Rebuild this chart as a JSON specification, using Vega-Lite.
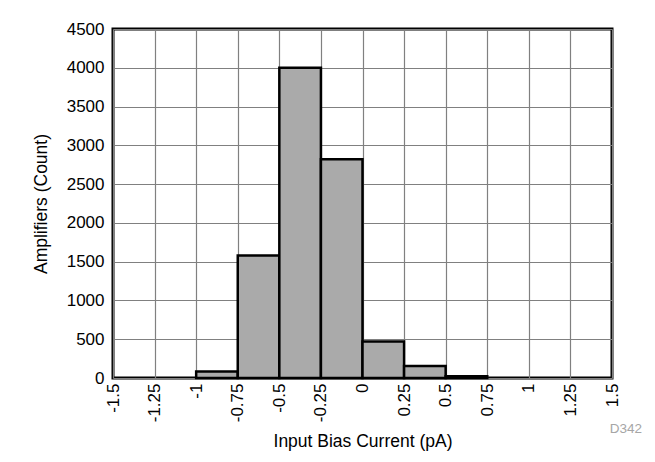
{
  "$schema": "https://vega.github.io/schema/vega-lite/v6.json",
  "width": 499,
  "height": 349,
  "autosize": "none",
  "padding": {"left": 113, "top": 29, "right": 43, "bottom": 84},
  "background": "white",
  "config": {
    "font": "Liberation Sans",
    "view": {"stroke": "black", "strokeWidth": 3},
    "axis": {"labelFont": "Liberation Sans", "titleFont": "Liberation Sans", "labelColor": "black", "titleColor": "black", "labelFontSize": 17, "titleFontSize": 17.5, "titleFontWeight": "normal", "gridColor": "#808080", "gridWidth": 1.2, "gridOpacity": 1, "domain": false, "ticks": false}
  },
  "title": {"text": "D342", "orient": "bottom", "anchor": "end", "frame": "bounds", "fontSize": 13.5, "fontWeight": "normal", "color": "#a6a6a6", "font": "Liberation Sans", "offset": -28, "dx": 22},
  "data": {"values": [
    {"lo": -1.0, "hi": -0.75, "count": 85},
    {"lo": -0.75, "hi": -0.5, "count": 1580},
    {"lo": -0.5, "hi": -0.25, "count": 4000},
    {"lo": -0.25, "hi": 0.0, "count": 2820},
    {"lo": 0.0, "hi": 0.25, "count": 470},
    {"lo": 0.25, "hi": 0.5, "count": 155},
    {"lo": 0.5, "hi": 0.75, "count": 22}
  ]},
  "mark": {"type": "rect", "fill": "#aaaaaa", "stroke": "black", "strokeWidth": 2.5},
  "encoding": {
    "x": {"field": "lo", "type": "quantitative", "scale": {"domain": [-1.5, 1.5], "nice": false, "zero": false},
      "axis": {"values": [-1.5, -1.25, -1, -0.75, -0.5, -0.25, 0, 0.25, 0.5, 0.75, 1, 1.25, 1.5], "labelAngle": -90, "labelAlign": "right", "labelBaseline": "middle", "labelPadding": 5, "labelExpr": "'' + datum.value", "title": "Input Bias Current (pA)", "titlePadding": 11}},
    "x2": {"field": "hi"},
    "y": {"field": "count", "type": "quantitative", "scale": {"domain": [0, 4500], "nice": false},
      "axis": {"values": [0, 500, 1000, 1500, 2000, 2500, 3000, 3500, 4000, 4500], "format": "d", "labelPadding": 9, "title": "Amplifiers (Count)", "titlePadding": 16}}
  }
}
